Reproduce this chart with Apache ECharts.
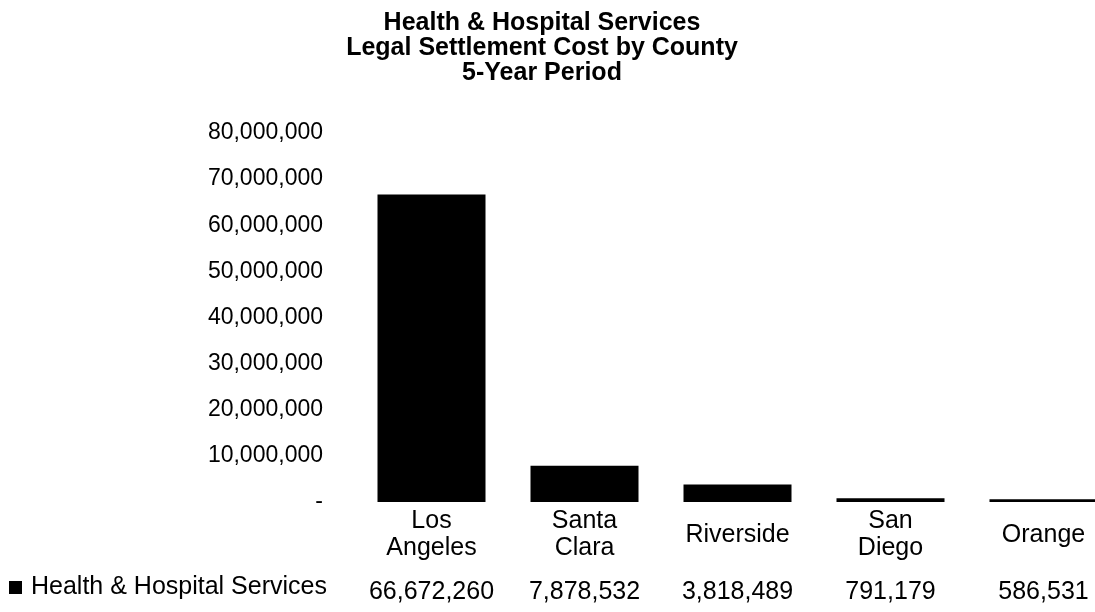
<!DOCTYPE html>
<html>
<head>
<meta charset="utf-8">
<title>Legal Settlement Cost by County</title>
<script src="https://cdn.jsdelivr.net/npm/echarts@6/dist/echarts.min.js"></script>
<style>
  html, body { margin: 0; padding: 0; background: #fff; overflow: hidden; }
  /* plot runs past the right edge like the scanned original, so the div is wider than the window */
  #chart { width: 1125px; height: 612px; }
</style>
</head>
<body>
<div id="chart"></div>
<script>
const counties = ["Los\nAngeles", "Santa\nClara", "Riverside", "San\nDiego", "Orange"];
const settlementCost = [66672260, 7878532, 3818489, 791179, 586531];
const seriesName = "Health & Hospital Services";
const titleLines = ["Health & Hospital Services", "Legal Settlement Cost by County", "5-Year Period"];

const fmt = v => v === 0 ? "-" : v.toLocaleString("en-US");
const font = "'Liberation Sans', Arial, sans-serif";

const mychart = echarts.init(document.getElementById("chart"));
const option = {
  animation: false,
  textStyle: { fontFamily: font, color: "#000" },
  title: {
    text: titleLines.join("\n"),
    left: 537,
    top: 6,
    textAlign: "center",
    textStyle: {
      fontFamily: font,
      fontSize: 25,
      fontWeight: "bold",
      lineHeight: 25,
      color: "#000"
    }
  },
  legend: {
    left: 9,
    top: 575,
    padding: 0,
    icon: "rect",
    itemWidth: 13,
    itemHeight: 13,
    textStyle: {
      fontFamily: font,
      fontSize: 25,
      color: "#000",
      padding: [0, 0, 0, 4]
    },
    data: [seriesName]
  },
  grid: {
    left: 355,
    top: 133,
    width: 765,
    bottom: 110,
    containLabel: false
  },
  xAxis: [
    {
      type: "category",
      data: counties,
      axisLine: { show: false },
      axisTick: { show: false },
      axisLabel: {
        interval: 0,
        margin: 33,
        verticalAlign: "middle",
        fontSize: 25,
        lineHeight: 27,
        color: "#000",
        fontFamily: font
      }
    },
    {
      type: "category",
      position: "bottom",
      data: settlementCost.map(fmt),
      axisLine: { show: false },
      axisTick: { show: false },
      axisLabel: {
        interval: 0,
        margin: 90,
        verticalAlign: "middle",
        fontSize: 25,
        color: "#000",
        fontFamily: font
      }
    }
  ],
  yAxis: {
    type: "value",
    min: 0,
    max: 80000000,
    interval: 10000000,
    axisLine: { show: false },
    axisTick: { show: false },
    splitLine: { show: false },
    axisLabel: {
      margin: 32,
      fontSize: 23,
      color: "#000",
      fontFamily: font,
      formatter: fmt
    }
  },
  series: [
    {
      name: seriesName,
      type: "bar",
      data: settlementCost,
      barWidth: 108,
      itemStyle: { color: "#000" }
    }
  ]
};
mychart.setOption(option);
</script>
</body>
</html>
